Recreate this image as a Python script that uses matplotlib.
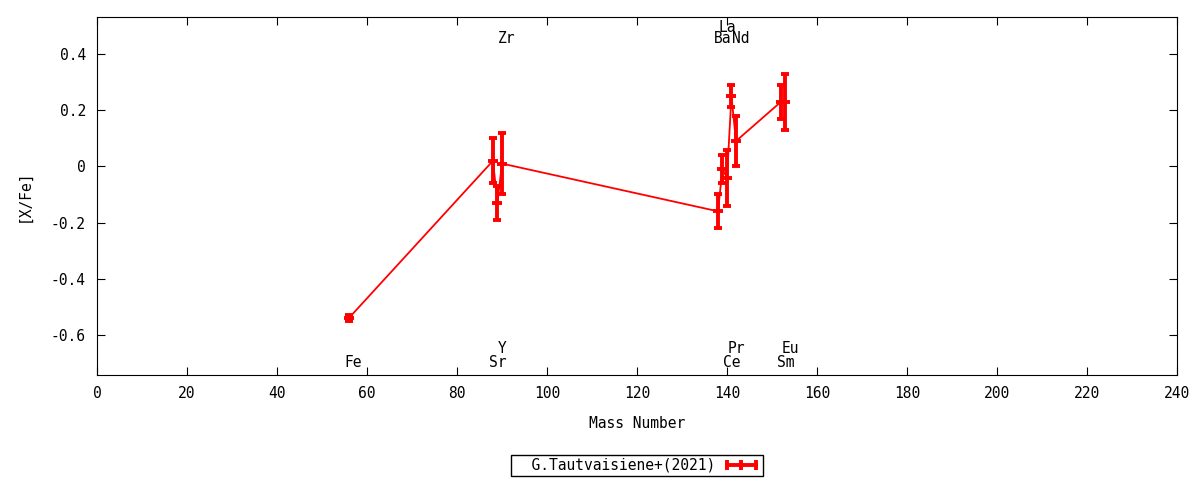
import matplotlib
matplotlib.use("Agg")
import matplotlib.pyplot as plt
from matplotlib.lines import Line2D

plt.rcParams['font.family'] = ['DejaVu Sans Mono']

# Données
elements = ["Fe", "Sr", "Y", "Zr", "Ba", "La", "Ce", "Pr", "Nd", "Sm", "Eu"]
mass = [56, 88, 89, 90, 138, 139, 140, 141, 142, 152, 153]
xfe = [-0.54, 0.02, -0.13, 0.01, -0.16, -0.01, -0.04, 0.25, 0.09, 0.23, 0.23]
err = [0.01, 0.08, 0.06, 0.11, 0.06, 0.05, 0.10, 0.04, 0.09, 0.06, 0.10]

# Étiquettes des éléments (position verticale)
label_y = [-0.70, -0.70, -0.65, 0.457, 0.457, 0.493, -0.70, -0.65, 0.457, -0.70, -0.65]

xticks = list(range(0, 241, 20))
yticks = [-0.6, -0.4, -0.2, 0.0, 0.2, 0.4]
ytick_labels = ["-0.6", "-0.4", "-0.2", "0", "0.2", "0.4"]

fig = plt.figure(figsize=(12, 4.8), dpi=100)
ax = fig.add_axes([0.0808, 0.21875, 0.9, 0.7458])

ax.errorbar(mass, xfe, yerr=err, color='red', lw=1.3, elinewidth=2.8,
            capsize=2.8, capthick=2.8, marker='_', ms=7, mew=2.8)

for el, m, y in zip(elements, mass, label_y):
    ax.text(m + 1, y, el, ha='center', va='center', fontsize=10.5)

ax.set_xlim(0, 240)
ax.set_ylim(-0.743, 0.532)
ax.set_xticks(xticks)
ax.set_yticks(yticks)
ax.set_yticklabels(ytick_labels)
ax.tick_params(direction='in', top=True, right=True, length=6, labelsize=10.5, pad=8)
ax.set_xlabel("Mass Number", fontsize=10.5, labelpad=11)
ax.set_ylabel("[X/Fe]", fontsize=10.5, labelpad=14)

# Légende : trait horizontal avec trois barres verticales
handle = Line2D([], [], color='red', lw=2.8, marker='|', ms=7, mew=2.8)
fig.legend([handle], ["  G.Tautvaisiene+(2021)"], loc='center',
           bbox_to_anchor=(0.531, 0.031), markerfirst=False, numpoints=3,
           fancybox=False, edgecolor='black', framealpha=1, fontsize=10.5,
           borderpad=0.2, handlelength=2.6, handletextpad=0.5, borderaxespad=0.2)

fig.savefig("out.png", dpi=100)
